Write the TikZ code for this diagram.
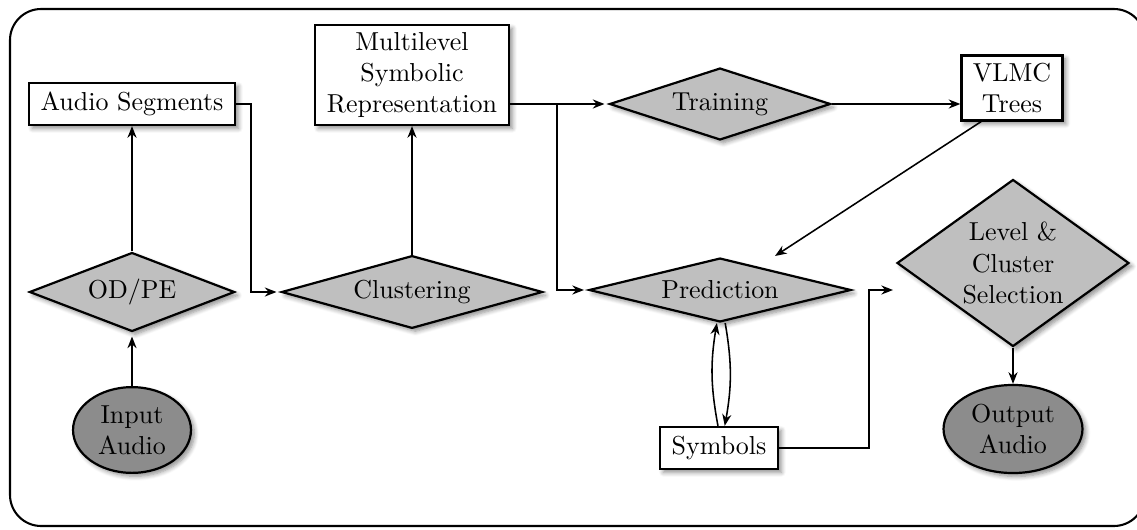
\documentclass[tikz,border=0pt]{standalone}
\usetikzlibrary{shapes.geometric,arrows.meta,shadows.blur,calc}
\begin{document}
\begin{tikzpicture}[x=0.385pt,y=-0.385pt,
  shad/.style={blur shadow={shadow blur steps=6,shadow xshift=1.3pt,shadow yshift=-1.3pt,shadow opacity=45}},
  boxnode/.style={draw,line width=0.85pt,fill=white,rectangle,inner sep=0pt,align=center,shad},
  dia/.style={draw,line width=0.85pt,fill=black!25,diamond,inner sep=0pt,align=center,shad},
  ell/.style={draw,line width=0.85pt,fill=black!45,ellipse,inner sep=0pt,align=center,shad},
  arr/.style={line width=0.6pt,-{Stealth[length=4.5pt,width=3.5pt]}},
  arrd/.style={arr,shorten >=1.5pt}]
\useasboundingbox (0,0) rectangle (1137,529);
\draw[line width=0.8pt,rounded corners=12pt] (10,9) rectangle (1145,526);

\node[boxnode,minimum width=79.3pt,minimum height=16.2pt] (as) at (132,104) {Audio Segments};
\node[boxnode,minimum width=74.7pt,minimum height=38.5pt] (ml) at (412,75) {Multilevel\\Symbolic\\Representation};
\node[boxnode,minimum width=38.9pt,minimum height=25pt] (vl) at (1012,88) {VLMC\\Trees};
\node[boxnode,minimum width=45.4pt,minimum height=16.2pt] (sy) at (719,448) {Symbols};

\node[dia,aspect=2.6,minimum width=79pt,minimum height=30.4pt] (od) at (132,292) {OD/PE};
\node[dia,aspect=3.6,minimum width=100.5pt,minimum height=28pt] (cl) at (412,292) {Clustering};
\node[dia,aspect=4.1,minimum width=100.9pt,minimum height=24.6pt] (pr) at (720,290) {Prediction};
\node[dia,aspect=3.07,minimum width=85.1pt,minimum height=27.7pt] (tr) at (720,104) {Training};
\node[dia,aspect=1.39,minimum width=89.3pt,minimum height=64.3pt] (lv) at (1013,263) {Level \&\\Cluster\\Selection};

\node[ell,minimum width=45.4pt,minimum height=33pt] (in) at (132,430) {Input\\Audio};
\node[ell,minimum width=53.5pt,minimum height=33.9pt] (out) at (1013,429) {Output\\Audio};

\coordinate (br) at (557,104);
\coordinate (pin) at (775,256);
\coordinate (lin) at (893,290);

\draw[arrd] (in.north) -- (od.south);
\draw[arr] (od.north) -- (as.south);
\draw[arrd] (as.east) -- ++(15,0) |- (cl.west);
\draw[arr] (cl.north) -- (ml.south);
\draw[arrd] (ml.east |- tr.west) -- (tr.west);
\draw[arrd] (br) |- (pr.west);
\draw[arr] (tr.east) -- (tr.east -| vl.west);
\draw[arr] ([xshift=8pt]vl.south west) -- (pin);
\draw[arr] ([xshift=-0.4pt]sy.north) to[bend left=10] ([xshift=-1.2pt]pr.south);
\draw[arr] ([xshift=2pt]pr.south) to[bend left=10] ([xshift=2.2pt]sy.north);
\draw[arr] (sy.east) -- ++(90,0) |- (lin);
\draw[arr] (lv.south) -- (out.north);
\end{tikzpicture}
\end{document}
